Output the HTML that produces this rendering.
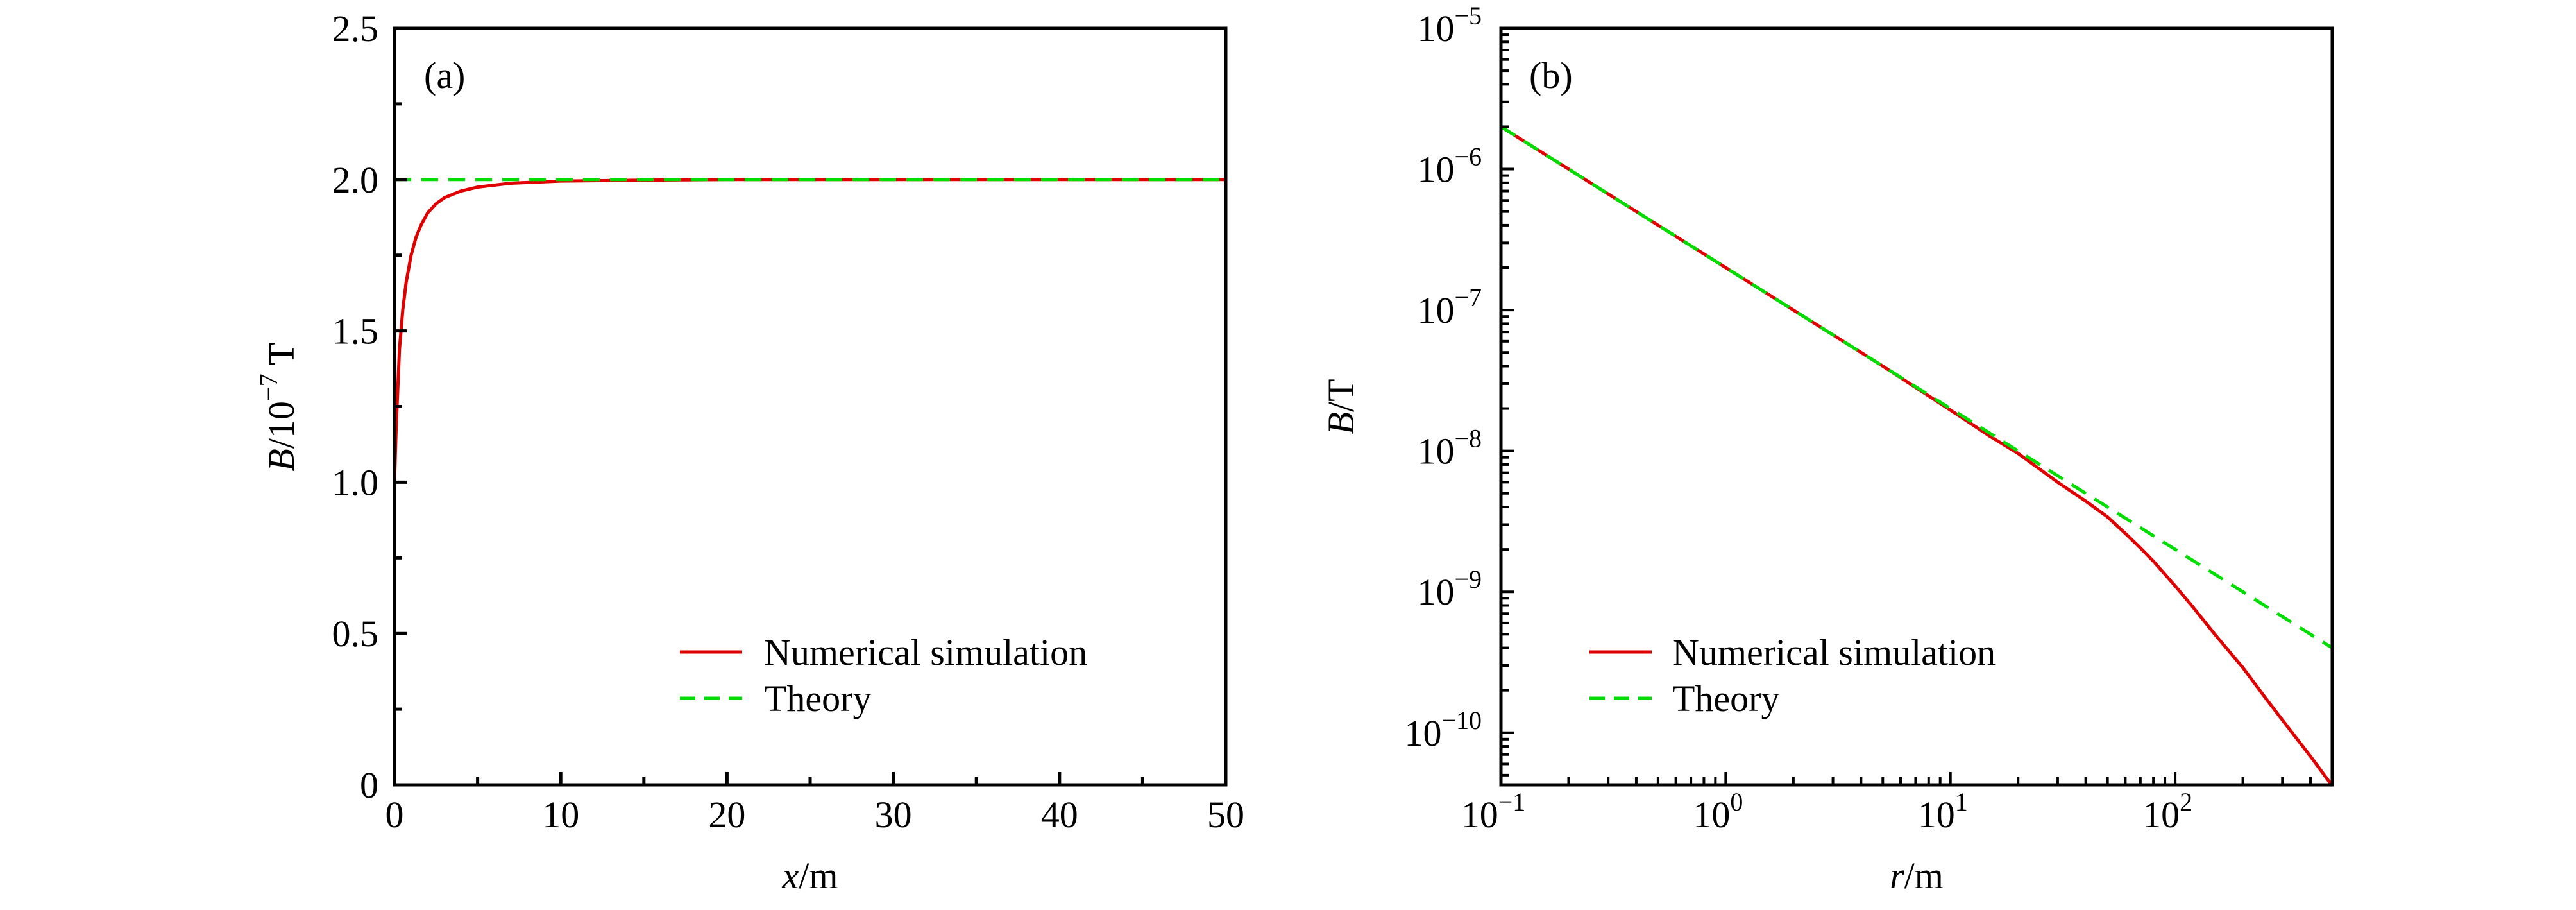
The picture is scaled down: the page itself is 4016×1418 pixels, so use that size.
<!DOCTYPE html>
<html><head><meta charset="utf-8"><style>
html,body{margin:0;padding:0;background:#fff;}
svg{display:block;font-family:"Liberation Serif",serif;}
</style></head><body>
<svg id="fig" width="4016" height="1418" viewBox="0 0 4016 1418" xmlns="http://www.w3.org/2000/svg">
<g id="pa"></g>
<g id="pb"></g>
</svg>
<script>
// Panel (a) data
const aX = [0, 0.1, 0.2, 0.3, 0.5, 0.7, 1, 1.3, 1.6, 2, 2.5, 3, 4, 5, 7, 10, 15, 20, 30, 50];
const aNum = [1.0, 1.18, 1.31, 1.44, 1.57, 1.66, 1.75, 1.81, 1.85, 1.89, 1.92, 1.94, 1.962, 1.975, 1.988, 1.995, 1.998, 2.0, 2.0, 2.0];
const aThX = [0, 50];
const aTh = [2.0, 2.0];
const aXTicks = [0, 10, 20, 30, 40, 50];
const aYTicks = [0, 0.5, 1.0, 1.5, 2.0, 2.5];
const aYTickLabels = ["0", "0.5", "1.0", "1.5", "2.0", "2.5"];
// Panel (b) data
const bR = [0.1, 1, 5, 10, 15, 20, 30, 40, 50, 60, 70, 80, 100, 120, 150, 200, 250, 300, 400, 500];
const bNum = [2e-6, 2e-7, 4e-8, 1.95e-8, 1.27e-8, 9.6e-9, 6e-9, 4.4e-9, 3.4e-9, 2.6e-9, 2.05e-9, 1.65e-9, 1.1e-9, 7.8e-10, 5.0e-10, 2.9e-10, 1.8e-10, 1.23e-10, 6.8e-11, 4.2e-11];
const bThR = [0.1, 1, 10, 100, 500];
const bTh = [2e-6, 2e-7, 2e-8, 2e-9, 4e-10];
const bXExp = [-1, 0, 1, 2];
const bYExp = [-10, -9, -8, -7, -6, -5];

const NS = "http://www.w3.org/2000/svg";
function mk(parent, tag, attrs, text) {
  const e = document.createElementNS(NS, tag);
  for (const k in attrs) e.setAttribute(k, attrs[k]);
  if (text !== undefined) e.textContent = text;
  parent.appendChild(e);
  return e;
}
const TOP = 44, BOT = 1223;

// ---------- Panel A ----------
const pa = document.getElementById('pa');
const aL = 615, aR = 1911;
const ax = v => aL + (v - 0) / 50 * (aR - aL);
const ay = v => BOT - v / 2.5 * (BOT - TOP);

let l;
l = mk(pa, 'polyline', {points: aX.map((x, i) => ax(x) + ',' + ay(aNum[i])).join(' '), fill: 'none', stroke: '#e00000', 'stroke-width': 5, 'stroke-linejoin': 'round'});


l = mk(pa, 'polyline', {points: aThX.map((x, i) => ax(x) + ',' + ay(aTh[i])).join(' '), fill: 'none', stroke: '#00dd00', 'stroke-width': 5, 'stroke-dasharray': '26,16'});



for (let v = 5; v < 50; v += 5) {
  const maj = v % 10 === 0;
  const t = mk(pa, 'line', {x1: ax(v), x2: ax(v), y1: BOT, y2: BOT - (maj ? 20 : 12), stroke: '#000', 'stroke-width': 5});
  
  
}
for (let v = 0.25; v < 2.5; v += 0.25) {
  const maj = Math.abs(v * 2 - Math.round(v * 2)) < 1e-6;
  const t = mk(pa, 'line', {x1: aL, x2: aL + (maj ? 20 : 12), y1: ay(v), y2: ay(v), stroke: '#000', 'stroke-width': 5});
  
  
}
aXTicks.forEach(v => {
  const t = mk(pa, 'text', {x: ax(v), y: 1289, 'font-size': 58, 'text-anchor': 'middle'}, String(v));
  
  
});
aYTicks.forEach((v, i) => {
  const t = mk(pa, 'text', {x: 590, y: ay(v) + 20, 'font-size': 58, 'text-anchor': 'end'}, aYTickLabels[i]);
  
  
});
let fr = mk(pa, 'rect', {x: aL, y: TOP, width: aR - aL, height: BOT - TOP, fill: 'none', stroke: '#000', 'stroke-width': 5});



// ---------- Panel B ----------
const pb = document.getElementById('pb');
const bL = 2340, bRt = 3636;
const xMinL = -1, xMaxL = Math.log10(500);
const yMinL = -10.37, yMaxL = -5;
const bx = v => bL + (Math.log10(v) - xMinL) / (xMaxL - xMinL) * (bRt - bL);
const by = v => BOT - (Math.log10(v) - yMinL) / (yMaxL - yMinL) * (BOT - TOP);

l = mk(pb, 'polyline', {points: bR.map((x, i) => bx(x) + ',' + by(bNum[i])).join(' '), fill: 'none', stroke: '#e00000', 'stroke-width': 5, 'stroke-linejoin': 'round'});


l = mk(pb, 'polyline', {points: bThR.map((x, i) => bx(x) + ',' + by(bTh[i])).join(' '), fill: 'none', stroke: '#00dd00', 'stroke-width': 5, 'stroke-dasharray': '26,16'});



for (let e = -1; e <= 2; e++) {
  for (let m = 1; m <= 9; m++) {
    const v = m * Math.pow(10, e);
    if (v > 500 || (e === -1 && m === 1)) continue;
    const t = mk(pb, 'line', {x1: bx(v), x2: bx(v), y1: BOT, y2: BOT - (m === 1 ? 20 : 12), stroke: '#000', 'stroke-width': 4});
    
    
  }
}
for (let e = -11; e <= -6; e++) {
  for (let m = 1; m <= 9; m++) {
    const v = m * Math.pow(10, e);
    const lv = Math.log10(v);
    if (lv < yMinL || lv >= yMaxL) continue;
    const t = mk(pb, 'line', {x1: bL, x2: bL + (m === 1 ? 20 : 12), y1: by(v), y2: by(v), stroke: '#000', 'stroke-width': 4});
    
    
  }
}
bXExp.forEach(e => {
  const t = mk(pb, 'text', {x: bx(Math.pow(10, e)) - 12, y: 1289, 'font-size': 58, 'text-anchor': 'middle'});
  
  
  mk(t, 'tspan', {}, '10');
  mk(t, 'tspan', {dy: -26, 'font-size': 40}, e < 0 ? '\u2212' + (-e) : String(e));
});
bYExp.forEach(e => {
  const t = mk(pb, 'text', {x: 2310, y: by(Math.pow(10, e)) + 20, 'font-size': 58, 'text-anchor': 'end'});
  
  
  mk(t, 'tspan', {}, '10');
  mk(t, 'tspan', {dy: -26, 'font-size': 40}, '\u2212' + (-e));
});
fr = mk(pb, 'rect', {x: bL, y: TOP, width: bRt - bL, height: BOT - TOP, fill: 'none', stroke: '#000', 'stroke-width': 5});



const svg = document.getElementById('fig');
svg.insertAdjacentHTML('beforeend', `
<text x="661" y="137" font-size="58">(a)</text>
<text x="2384" y="137" font-size="58">(b)</text>
<text x="1263" y="1384" font-size="58" text-anchor="middle"><tspan font-style="italic">x</tspan>/m</text>
<text x="2988" y="1384" font-size="58" text-anchor="middle"><tspan font-style="italic">r</tspan>/m</text>
<text transform="translate(458,634) rotate(-90)" font-size="58" text-anchor="middle"><tspan font-style="italic">B</tspan>/10<tspan dy="-26" font-size="40">\u22127</tspan><tspan dy="26"> T</tspan></text>
<text transform="translate(2110,634) rotate(-90)" font-size="58" text-anchor="middle"><tspan font-style="italic">B</tspan>/T</text>
<g>
<line x1="1060" x2="1157" y1="1016" y2="1016" stroke="#e00000" stroke-width="5"/>
<text x="1191" y="1036" font-size="58">Numerical simulation</text>
<line x1="1060" x2="1157" y1="1088" y2="1088" stroke="#00dd00" stroke-width="5" stroke-dasharray="24,14"/>
<text x="1191" y="1108" font-size="58">Theory</text>
</g>
<g>
<line x1="2478" x2="2575" y1="1016" y2="1016" stroke="#e00000" stroke-width="5"/>
<text x="2607" y="1036" font-size="58">Numerical simulation</text>
<line x1="2478" x2="2575" y1="1088" y2="1088" stroke="#00dd00" stroke-width="5" stroke-dasharray="24,14"/>
<text x="2607" y="1108" font-size="58">Theory</text>
</g>`);
</script>
</body></html>
